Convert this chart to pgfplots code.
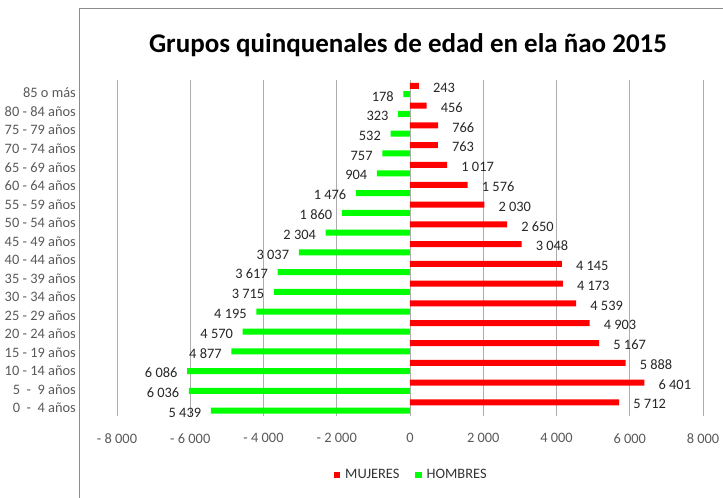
\documentclass[border=0pt]{standalone}
\usepackage{fontspec}
\setmainfont{Carlito}
\usepackage{pgfplots}
\pgfplotsset{compat=1.18}
\definecolor{gridc}{HTML}{ADADAD}
\definecolor{framec}{HTML}{8C8C8C}
\definecolor{labc}{HTML}{595959}
\definecolor{datc}{HTML}{262626}
\definecolor{mred}{HTML}{FF0000}
\definecolor{hgreen}{HTML}{00FF00}
\newcommand{\lf}{\fontsize{14.4}{17}\selectfont}
\begin{document}
\begin{tikzpicture}
\path[use as bounding box] (0pt,0pt) rectangle (723pt,498pt);
\draw[framec, line width=1pt] (79pt,0pt) -- (79pt,489pt) -- (723pt,489pt);
\node[font=\fontsize{27}{32}\selectfont\bfseries, anchor=base, inner sep=0pt] at (408pt,445pt) {Grupos quinquenales de edad en ela ñao 2015};
\begin{axis}[
  at={(117pt,81.6pt)}, anchor=south west,
  scale only axis, width=586pt, height=336.3pt,
  xbar, bar width=6pt,
  xmin=-8000, xmax=8000, ymin=-0.5, ymax=16.5,
  xtick={-8000,-6000,-4000,-2000,0,2000,4000,6000,8000},
  xticklabels={- 8~000,- 6~000,- 4~000,- 2~000,0,2~000,4~000,6~000,8~000},
  ytick={-0.076,0.861,1.797,2.733,3.670,4.606,5.542,6.478,7.415,8.351,9.287,10.223,11.160,12.096,13.032,13.969,14.905,15.841},
  yticklabels={0~~-~~4 años,5~~-~~9 años,10 - 14 años,15 - 19 años,20 - 24 años,25 - 29 años,30 - 34 años,35 - 39 años,40 - 44 años,45 - 49 años,50 - 54 años,55 - 59 años,60 - 64 años,65 - 69 años,70 - 74 años,75 - 79 años,80 - 84 años,85 o más},
  xmajorgrids, ymajorgrids=false,
  grid style={gridc, line width=0.8pt},
  axis line style={draw=none},
  major tick length=0pt,
  xticklabel style={font=\lf, text=labc, inner sep=0pt, anchor=north, yshift=-17pt},
  yticklabel style={font=\lf, text=labc, inner sep=0pt, anchor=east, xshift=-41pt},
  point meta=explicit symbolic,
  legend columns=2,
  legend style={at={(0.5003,-0.1743)}, anchor=center, draw=none, fill=none, font=\lf, text=black!80,
    nodes={inner sep=0pt}, column sep=5pt, /tikz/every even column/.append style={column sep=15.7pt}},
  legend image code/.code={\fill[#1] (0pt,-3.25pt) rectangle (6.5pt,3.25pt);},
]
\addplot[fill=mred, draw=none, bar shift=4.15pt, nodes near coords,
  every node near coord/.append style={font=\lf, text=datc, inner sep=0pt, anchor=west, xshift=14pt, yshift=-2pt}]
coordinates {
(5712,0) [5~712] (6401,1) [6~401] (5888,2) [5~888] (5167,3) [5~167] (4903,4) [4~903]
(4539,5) [4~539] (4173,6) [4~173] (4145,7) [4~145] (3048,8) [3~048] (2650,9) [2~650]
(2030,10) [2~030] (1576,11) [1~576] (1017,12) [1~017] (763,13) [763] (766,14) [766]
(456,15) [456] (243,16) [243]
};
\addlegendentry{MUJERES}
\addplot[fill=hgreen, draw=none, bar shift=-4.15pt, nodes near coords,
  every node near coord/.append style={font=\lf, text=datc, inner sep=0pt, anchor=east, xshift=-9.5pt, yshift=-2pt}]
coordinates {
(-5439,0) [5~439] (-6036,1) [6~036] (-6086,2) [6~086] (-4877,3) [4~877] (-4570,4) [4~570]
(-4195,5) [4~195] (-3715,6) [3~715] (-3617,7) [3~617] (-3037,8) [3~037] (-2304,9) [2~304]
(-1860,10) [1~860] (-1476,11) [1~476] (-904,12) [904] (-757,13) [757] (-532,14) [532]
(-323,15) [323] (-178,16) [178]
};
\addlegendentry{HOMBRES}
\end{axis}
\end{tikzpicture}
\end{document}
